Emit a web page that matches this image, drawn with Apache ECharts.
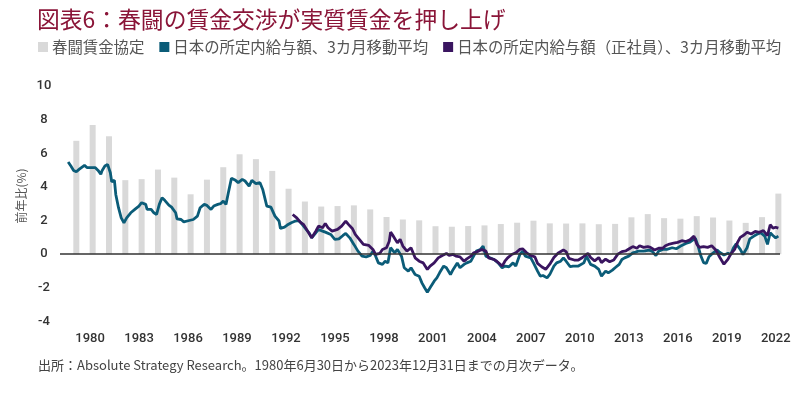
<!DOCTYPE html>
<html>
<head>
<meta charset="utf-8">
<script src="https://cdn.jsdelivr.net/npm/echarts@6/dist/echarts.min.js"></script>
<style>
html,body{margin:0;padding:0;background:#fff;}
#c{width:800px;height:393px;}
</style>
</head>
<body>
<div id="c"></div>
<script>
// ---- data ----
const barYears = [1980,1981,1982,1983,1984,1985,1986,1987,1988,1989,1990,1991,1992,1993,1994,1995,1996,1997,1998,1999,2000,2001,2002,2003,2004,2005,2006,2007,2008,2009,2010,2011,2012,2013,2014,2015,2016,2017,2018,2019,2020,2021,2022,2023];
const barValues = [6.74,7.68,7.01,4.40,4.46,5.03,4.55,3.56,4.43,5.17,5.94,5.65,4.95,3.89,3.13,2.83,2.86,2.90,2.66,2.21,2.06,2.01,1.66,1.63,1.67,1.71,1.79,1.87,1.99,1.83,1.82,1.83,1.78,1.80,2.19,2.38,2.14,2.11,2.26,2.18,2.00,1.86,2.20,3.60];

const tealDates = ['1980-06','1980-08','1980-10','1980-12','1981-02','1981-03','1981-06','1981-08','1981-12','1982-02','1982-04','1982-06','1982-07','1982-09','1982-11','1983-01','1983-02','1983-04','1983-05','1983-07','1983-09','1983-11','1984-01','1984-04','1984-07','1984-10','1984-12','1985-03','1985-04','1985-07','1985-09','1985-11','1986-01','1986-03','1986-05','1986-08','1986-10','1987-01','1987-02','1987-05','1987-07','1987-11','1988-02','1988-05','1988-07','1988-10','1988-12','1989-03','1989-05','1989-08','1989-10','1989-12','1990-02','1990-04','1990-06','1990-09','1990-11','1991-02','1991-04','1991-07','1991-09','1991-12','1992-03','1992-05','1992-08','1992-11','1993-02','1993-05','1993-06','1993-09','1993-11','1994-02','1994-05','1994-07','1994-09','1994-11','1995-03','1995-05','1995-08','1995-10','1996-01','1996-03','1996-07','1996-10','1997-01','1997-04','1997-06','1997-09','1997-12','1998-03','1998-06','1998-09','1998-12','1999-02','1999-04','1999-06','1999-09','1999-11','2000-01','2000-03','2000-06','2000-08','2000-11','2001-01','2001-04','2001-06','2001-09','2001-12','2002-02','2002-04','2002-06','2002-08','2002-11','2003-01','2003-03','2003-06','2003-08','2003-11','2004-01','2004-04','2004-06','2004-09','2004-11','2005-02','2005-04','2005-06','2005-09','2005-11','2006-01','2006-04','2006-07','2006-10','2007-01','2007-03','2007-06','2007-09','2007-11','2008-02','2008-04','2008-06','2008-10','2008-12','2009-03','2009-05','2009-07','2009-10','2009-12','2010-03','2010-05','2010-08','2010-10','2010-12','2011-03','2011-05','2011-09','2012-01','2012-03','2012-06','2012-09','2012-12','2013-02','2013-05','2013-07','2013-10','2013-12','2014-03','2014-05','2014-07','2014-10','2015-01','2015-03','2015-05','2015-09','2016-01','2016-03','2016-06','2016-08','2016-11','2017-02','2017-06','2017-09','2018-01','2018-04','2018-07','2018-11','2019-01','2019-03','2019-05','2019-07','2019-09','2019-11','2020-03','2020-05','2020-08','2020-11','2021-01','2021-03','2021-05','2021-08','2021-10','2022-01','2022-03','2022-06','2022-08','2022-11','2023-02','2023-04','2023-06','2023-08','2023-10','2023-12'];
const tealValues = [5.48,5.24,4.98,4.90,5.04,4.94,5.28,5.14,5.14,5.14,4.98,4.75,4.98,5.24,5.34,4.84,4.31,4.39,3.55,2.76,2.16,1.87,2.16,2.46,2.66,2.86,3.06,2.96,2.66,2.66,2.46,2.36,2.96,3.35,3.20,2.92,2.80,2.46,2.10,2.06,1.92,2.00,2.06,2.26,2.76,2.96,2.90,2.66,2.86,2.96,3.00,3.16,2.96,3.75,4.51,4.39,4.25,4.45,4.35,4.05,4.39,4.19,4.25,3.85,2.86,2.80,2.26,1.97,1.53,1.61,1.73,1.87,1.97,2.00,1.87,1.67,1.27,0.97,1.27,1.47,1.37,1.31,1.17,0.88,0.91,1.11,1.23,0.97,0.58,0.18,-0.12,-0.16,-0.08,0.18,-0.12,-0.52,-0.61,-0.42,-0.52,0.38,0.08,0.28,-0.12,-0.81,-1.01,-0.81,-1.21,-1.31,-1.71,-2.00,-2.26,-2.00,-1.61,-1.41,-1.11,-0.71,-0.81,-1.21,-0.91,-0.52,-0.81,-0.61,-0.52,-0.42,-0.12,0.18,0.28,0.48,-0.12,-0.22,-0.32,-0.52,-0.81,-0.71,-0.75,-0.52,-0.71,-0.02,0.18,-0.12,-0.22,-0.52,-1.01,-1.31,-1.27,-1.41,-1.21,-0.71,-0.52,-0.42,-0.22,-0.42,-0.75,-0.71,-0.71,-0.52,-0.12,-0.61,-0.71,-0.91,-1.31,-1.01,-1.11,-0.95,-0.81,-0.61,-0.32,-0.22,-0.12,0.08,0.12,0.18,0.18,0.24,0.18,-0.08,0.18,0.28,0.28,0.38,0.32,0.52,0.64,0.71,0.95,0.48,-0.10,-0.50,-0.55,-0.15,0.00,0.25,0.10,-0.05,0.05,-0.02,0.38,0.62,0.28,-0.02,0.38,0.91,1.07,1.17,1.27,1.07,0.58,1.27,1.11,0.97,1.07];

const purpleDates = ['1994-03','1994-06','1994-09','1994-11','1995-02','1995-05','1995-08','1995-10','1996-01','1996-03','1996-05','1996-08','1996-12','1997-03','1997-06','1997-08','1997-11','1998-01','1998-04','1998-07','1998-11','1999-02','1999-04','1999-07','1999-09','1999-12','2000-02','2000-03','2000-05','2000-08','2000-10','2000-12','2001-03','2001-06','2001-09','2001-12','2002-03','2002-06','2002-08','2002-11','2003-02','2003-05','2003-08','2003-10','2004-01','2004-03','2004-06','2004-09','2004-11','2005-02','2005-04','2005-06','2005-10','2006-01','2006-03','2006-07','2006-09','2007-01','2007-03','2007-05','2007-08','2007-11','2008-02','2008-04','2008-07','2008-10','2009-01','2009-03','2009-06','2009-09','2009-12','2010-03','2010-06','2010-10','2010-12','2011-02','2011-06','2011-09','2011-12','2012-04','2012-06','2012-09','2012-12','2013-02','2013-05','2013-08','2013-11','2014-02','2014-05','2014-08','2014-11','2015-01','2015-04','2015-06','2015-09','2015-12','2016-02','2016-05','2016-08','2016-11','2017-01','2017-04','2017-07','2017-10','2018-01','2018-04','2018-07','2018-10','2018-12','2019-02','2019-05','2019-08','2019-11','2020-02','2020-05','2020-08','2020-11','2021-01','2021-04','2021-06','2021-08','2021-11','2022-01','2022-04','2022-07','2022-10','2023-01','2023-04','2023-06','2023-08','2023-10','2023-12'];
const purpleValues = [2.36,2.16,1.87,1.77,1.37,0.97,1.37,1.67,1.57,1.83,1.57,1.37,1.47,1.67,1.97,1.77,1.51,1.17,0.88,0.58,0.52,0.28,-0.02,0.04,0.28,0.38,0.77,1.31,1.07,0.67,0.88,0.48,0.18,0.38,-0.22,-0.42,-0.52,-0.91,-0.71,-0.52,-0.22,-0.08,0.04,-0.08,-0.02,-0.12,-0.16,-0.42,-0.28,-0.12,0.08,0.12,0.28,0.18,-0.22,-0.32,-0.42,-0.71,-0.42,-0.22,-0.02,0.08,0.28,0.32,0.08,-0.08,-0.16,-0.55,-0.75,-0.90,-0.60,-0.20,0.05,0.25,0.15,-0.25,-0.35,-0.35,-0.20,0.05,-0.20,-0.40,-0.20,-0.50,-0.30,-0.45,-0.35,0.00,0.15,0.20,0.35,0.45,0.35,0.50,0.40,0.45,0.40,0.25,0.35,0.35,0.50,0.60,0.65,0.70,0.80,0.75,0.85,1.07,0.60,0.40,0.45,0.40,0.50,0.25,-0.20,-0.60,-0.30,0.00,0.30,0.70,1.00,1.15,1.30,1.20,1.35,1.30,1.40,1.10,1.75,1.55,1.60,1.55];

const tickLabels = ['1980','1983','1986','1989','1992','1995','1998','2001','2004','2007','2010','2013','2016','2019','2022'];

// ---- helpers ----
function monthEnd(s){ const p = s.split('-'); return +p[0] + (+p[1])/12; }   // position at end of month
const LABEL_SHIFT = 1.84; // where the source chart places its year labels
const labelPos = tickLabels.map(l => +l + LABEL_SHIFT);

const chart = echarts.init(document.getElementById('c'), null, {renderer:'canvas'});
const jp = '"Noto Sans CJK JP", "Noto Sans", sans-serif';
const num = 'Roboto, "DejaVu Sans", sans-serif';

chart.setOption({
  animation:false,
  backgroundColor:'#ffffff',
  title:{
    text:'図表6：春闘の賃金交渉が実質賃金を押し上げ',
    left:37, top:8, padding:0,
    textStyle:{color:'#8a1538', fontSize:22.8, fontWeight:'normal', fontFamily:jp}
  },
  legend:{
    left:38, top:39, padding:0,
    icon:'rect', itemWidth:10, itemHeight:10, itemGap:15,
    textStyle:{color:'#555', fontSize:15.4, fontFamily:jp, lineHeight:16, padding:[0,0,0,-1]},
    data:['春闘賃金協定','日本の所定内給与額、3カ月移動平均','日本の所定内給与額（正社員）、3カ月移動平均']
  },
  grid:{left:60, right:20, top:86, bottom:71.6, containLabel:false},
  xAxis:{
    type:'value', min:1980, max:2024.1,
    axisLine:{show:false}, axisTick:{show:false}, splitLine:{show:false},
    axisLabel:{
      customValues:labelPos,
      formatter:function(v){ const i = labelPos.findIndex(p => Math.abs(p - v) < 1e-6); return i >= 0 ? tickLabels[i] : ''; },
      margin:11, color:'#333', fontSize:13, fontWeight:500, fontFamily:num
    }
  },
  yAxis:{
    type:'value', min:-4, max:10, interval:2,
    axisLine:{show:false}, axisTick:{show:false}, splitLine:{show:false},
    axisLabel:{margin:16, align:'center', color:'#333', fontSize:13, fontWeight:500, fontFamily:num}
  },
  series:[
    {
      name:'春闘賃金協定', type:'bar', barWidth:6,
      itemStyle:{color:'#d9d9d9'},
      data:barYears.map((y,i)=>[y + 1, barValues[i]]),
      markLine:{
        symbol:'none', silent:true, label:{show:false},
        lineStyle:{color:'#333', width:1.5, type:'solid'},
        data:[{yAxis:0}]
      },
      z:1
    },
    {
      name:'日本の所定内給与額、3カ月移動平均', type:'line', showSymbol:false,
      lineStyle:{color:'#0b5c78', width:2.8}, itemStyle:{color:'#0b5c78'},
      data:tealDates.map((d,i)=>[monthEnd(d), tealValues[i]]), z:3
    },
    {
      name:'日本の所定内給与額（正社員）、3カ月移動平均', type:'line', showSymbol:false,
      lineStyle:{color:'#3a1560', width:2.8}, itemStyle:{color:'#3a1560'},
      data:purpleDates.map((d,i)=>[monthEnd(d), purpleValues[i]]), z:4
    }
  ],
  graphic:[
    {
      type:'text', x:21, y:196, rotation:Math.PI/2,
      style:{text:'前年比(%)', fill:'#555', fontSize:12, fontFamily:jp, align:'center', verticalAlign:'middle'}
    },
    {
      type:'text', left:38, top:359,
      style:{text:'出所：Absolute Strategy Research。1980年6月30日から2023年12月31日までの月次データ。', fill:'#444', fontSize:13, fontFamily:jp}
    }
  ]
});
</script>
</body>
</html>
